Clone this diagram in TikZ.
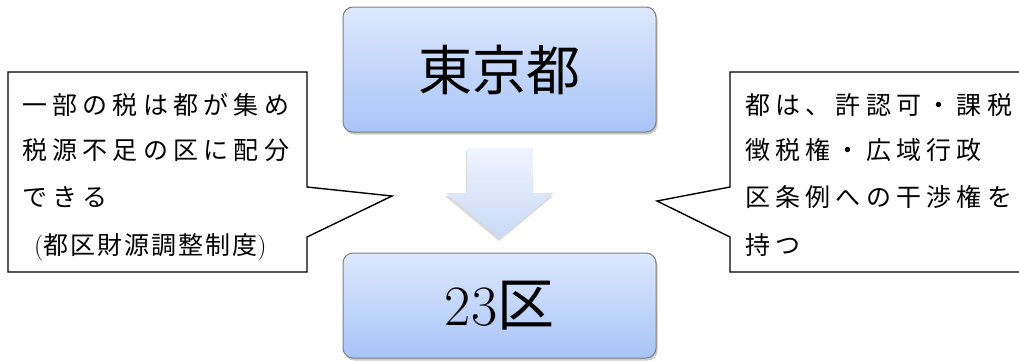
\documentclass[tikz,border=0pt]{standalone}
\usepackage{fontspec}
\newfontfamily\cjk{Noto Sans CJK JP}
\newfontfamily\cjksp[LetterSpace=21]{Noto Sans CJK JP}
\newfontfamily\cjkparen[LetterSpace=8]{Noto Sans CJK JP}
\usetikzlibrary{shadows}
\definecolor{boxtop}{HTML}{DDE8FD}
\definecolor{boxbot}{HTML}{A8C4F7}
\definecolor{boxedge}{HTML}{808080}
\definecolor{arrtop}{HTML}{F0F4FD}
\definecolor{arrbot}{HTML}{C9D9F8}
\begin{document}
\begin{tikzpicture}[x=1pt,y=-1pt,
 mainbox/.style={draw=boxedge, line width=1pt, rounded corners=10pt, top color=boxtop, bottom color=boxbot, minimum width=313pt, inner sep=0pt, drop shadow={shadow xshift=1.5pt, shadow yshift=-2.5pt, opacity=0.35, fill=black!60}},
 blockarrow/.style={top color=arrtop, bottom color=arrbot, drop shadow={shadow xshift=-1pt, shadow yshift=-3pt, opacity=0.25, fill=black!60}},
 calloutline/.style={draw=black, line width=1.4pt, fill=white},
 linetext/.style={anchor=base west, inner sep=0pt, font=\cjksp\fontsize{25}{30}\selectfont}
]
\useasboundingbox (0,0) rectangle (1019,360);
\clip (0,0) rectangle (1019,360);

\node[mainbox, minimum height=125pt] (tokyo) at (499.5,69.5) {\cjk\fontsize{54}{54}\selectfont 東京都};
\node[mainbox, minimum height=105pt] (ku) at (499.5,305.5) {\fontsize{57}{57}\selectfont 23{\cjk 区}};

\path[blockarrow] (467,148) -- (533,148) -- (533,193) -- (554,193) -- (500,238) -- (446,193) -- (467,193) -- cycle;

\draw[calloutline] (8,72) -- (307,72) -- (307,187) -- (392,196) -- (307,237) -- (307,272) -- (8,272) -- cycle;
\node[linetext] (l1) at (22,114.5) {一部の税は都が集め};
\node[linetext] (l2) at (22,159.5) {税源不足の区に配分};
\node[linetext] (l3) at (22,206.5) {できる};
\node[linetext] (l4) at (34,254.5) {{\fontsize{26}{30}\rmfamily(}{\cjkparen 都区財源調整制度}{\fontsize{26}{30}\rmfamily)}};

\draw[calloutline] (730,72) -- (1030,72) -- (1030,272) -- (730,272) -- (730,237) -- (657,201) -- (730,187) -- cycle;
\node[linetext] (r1) at (745,114.5) {都は、許認可・課税};
\node[linetext] (r2) at (745,159.5) {徴税権・広域行政};
\node[linetext] (r3) at (745,206.5) {区条例への干渉権を};
\node[linetext] (r4) at (745,254.5) {持つ};
\end{tikzpicture}
\end{document}
